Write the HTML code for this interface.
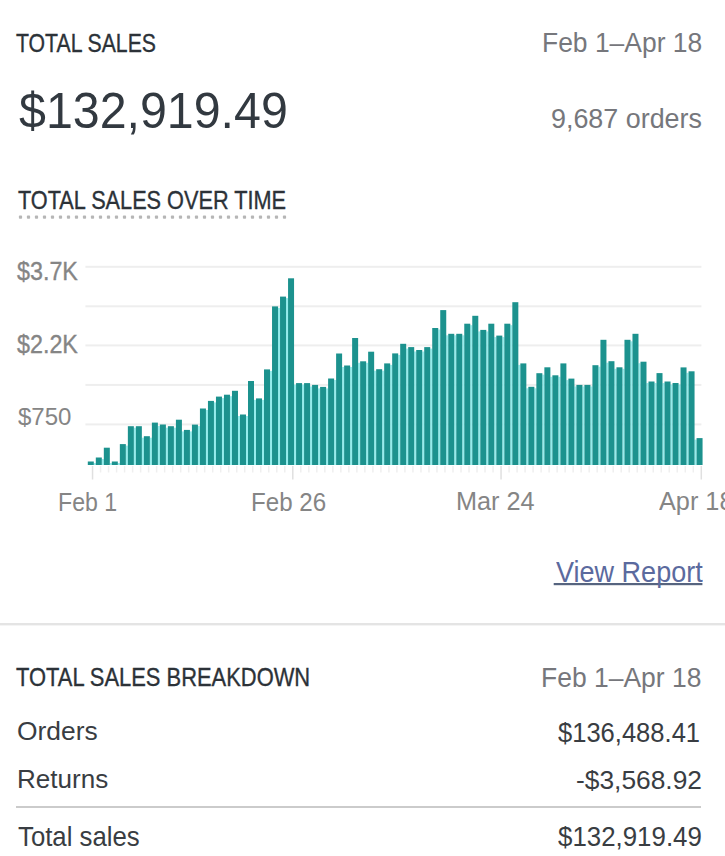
<!DOCTYPE html>
<html><head><meta charset="utf-8"><style>
html,body{margin:0;padding:0;background:#fff;width:725px;height:856px;overflow:hidden;position:relative}
.t{position:absolute;font-family:"Liberation Sans", sans-serif;line-height:1;white-space:nowrap}
</style></head><body>

<svg width="725" height="856" style="position:absolute;left:0;top:0">
<rect x="85.4" y="265.8" width="616" height="2" fill="#eeeeee"/>
<rect x="85.4" y="305.3" width="616" height="2" fill="#eeeeee"/>
<rect x="85.4" y="344.4" width="616" height="2" fill="#eeeeee"/>
<rect x="85.4" y="383.9" width="616" height="2" fill="#eeeeee"/>
<rect x="85.4" y="423.4" width="616" height="2" fill="#eeeeee"/>
<rect x="93.80" y="463.0" width="2.01" height="2.0" fill="#94ecec"/>
<rect x="101.81" y="459.0" width="2.01" height="6.0" fill="#94ecec"/>
<rect x="109.82" y="463.0" width="2.01" height="2.0" fill="#94ecec"/>
<rect x="117.83" y="463.0" width="2.01" height="2.0" fill="#94ecec"/>
<rect x="125.84" y="445.6" width="2.01" height="19.4" fill="#94ecec"/>
<rect x="133.85" y="427.7" width="2.01" height="37.3" fill="#94ecec"/>
<rect x="141.86" y="437.7" width="2.01" height="27.3" fill="#94ecec"/>
<rect x="149.87" y="437.7" width="2.01" height="27.3" fill="#94ecec"/>
<rect x="157.88" y="426.0" width="2.01" height="39.0" fill="#94ecec"/>
<rect x="165.89" y="427.7" width="2.01" height="37.3" fill="#94ecec"/>
<rect x="173.90" y="427.7" width="2.01" height="37.3" fill="#94ecec"/>
<rect x="181.91" y="431.4" width="2.01" height="33.6" fill="#94ecec"/>
<rect x="189.92" y="431.4" width="2.01" height="33.6" fill="#94ecec"/>
<rect x="197.93" y="426.1" width="2.01" height="38.9" fill="#94ecec"/>
<rect x="205.94" y="410.0" width="2.01" height="55.0" fill="#94ecec"/>
<rect x="213.95" y="402.4" width="2.01" height="62.6" fill="#94ecec"/>
<rect x="221.96" y="398.1" width="2.01" height="66.9" fill="#94ecec"/>
<rect x="229.97" y="396.2" width="2.01" height="68.8" fill="#94ecec"/>
<rect x="237.98" y="416.0" width="2.01" height="49.0" fill="#94ecec"/>
<rect x="245.99" y="416.0" width="2.01" height="49.0" fill="#94ecec"/>
<rect x="254.00" y="399.9" width="2.01" height="65.1" fill="#94ecec"/>
<rect x="262.01" y="399.9" width="2.01" height="65.1" fill="#94ecec"/>
<rect x="270.02" y="370.9" width="2.01" height="94.1" fill="#94ecec"/>
<rect x="278.03" y="307.9" width="2.01" height="157.1" fill="#94ecec"/>
<rect x="286.04" y="298.1" width="2.01" height="166.9" fill="#94ecec"/>
<rect x="294.05" y="384.6" width="2.01" height="80.4" fill="#94ecec"/>
<rect x="302.06" y="384.6" width="2.01" height="80.4" fill="#94ecec"/>
<rect x="310.07" y="386.4" width="2.01" height="78.6" fill="#94ecec"/>
<rect x="318.08" y="388.4" width="2.01" height="76.6" fill="#94ecec"/>
<rect x="326.09" y="388.4" width="2.01" height="76.6" fill="#94ecec"/>
<rect x="334.10" y="380.0" width="2.01" height="85.0" fill="#94ecec"/>
<rect x="342.11" y="367.0" width="2.01" height="98.0" fill="#94ecec"/>
<rect x="350.12" y="367.0" width="2.01" height="98.0" fill="#94ecec"/>
<rect x="358.13" y="362.8" width="2.01" height="102.2" fill="#94ecec"/>
<rect x="366.14" y="362.8" width="2.01" height="102.2" fill="#94ecec"/>
<rect x="374.15" y="370.7" width="2.01" height="94.3" fill="#94ecec"/>
<rect x="382.16" y="370.7" width="2.01" height="94.3" fill="#94ecec"/>
<rect x="390.17" y="364.9" width="2.01" height="100.1" fill="#94ecec"/>
<rect x="398.18" y="354.9" width="2.01" height="110.1" fill="#94ecec"/>
<rect x="406.19" y="348.6" width="2.01" height="116.4" fill="#94ecec"/>
<rect x="414.20" y="351.5" width="2.01" height="113.5" fill="#94ecec"/>
<rect x="422.21" y="351.5" width="2.01" height="113.5" fill="#94ecec"/>
<rect x="430.22" y="348.6" width="2.01" height="116.4" fill="#94ecec"/>
<rect x="438.23" y="329.5" width="2.01" height="135.5" fill="#94ecec"/>
<rect x="446.24" y="335.3" width="2.01" height="129.7" fill="#94ecec"/>
<rect x="454.25" y="335.3" width="2.01" height="129.7" fill="#94ecec"/>
<rect x="462.26" y="335.3" width="2.01" height="129.7" fill="#94ecec"/>
<rect x="470.27" y="325.2" width="2.01" height="139.8" fill="#94ecec"/>
<rect x="478.28" y="331.4" width="2.01" height="133.6" fill="#94ecec"/>
<rect x="486.29" y="331.4" width="2.01" height="133.6" fill="#94ecec"/>
<rect x="494.30" y="337.1" width="2.01" height="127.9" fill="#94ecec"/>
<rect x="502.31" y="337.1" width="2.01" height="127.9" fill="#94ecec"/>
<rect x="510.32" y="325.2" width="2.01" height="139.8" fill="#94ecec"/>
<rect x="518.33" y="364.9" width="2.01" height="100.1" fill="#94ecec"/>
<rect x="526.34" y="388.3" width="2.01" height="76.7" fill="#94ecec"/>
<rect x="534.35" y="388.3" width="2.01" height="76.7" fill="#94ecec"/>
<rect x="542.36" y="374.7" width="2.01" height="90.3" fill="#94ecec"/>
<rect x="550.37" y="376.8" width="2.01" height="88.2" fill="#94ecec"/>
<rect x="558.38" y="376.8" width="2.01" height="88.2" fill="#94ecec"/>
<rect x="566.39" y="380.1" width="2.01" height="84.9" fill="#94ecec"/>
<rect x="574.40" y="386.4" width="2.01" height="78.6" fill="#94ecec"/>
<rect x="582.41" y="386.4" width="2.01" height="78.6" fill="#94ecec"/>
<rect x="590.42" y="386.4" width="2.01" height="78.6" fill="#94ecec"/>
<rect x="598.43" y="366.7" width="2.01" height="98.3" fill="#94ecec"/>
<rect x="606.44" y="362.7" width="2.01" height="102.3" fill="#94ecec"/>
<rect x="614.45" y="368.8" width="2.01" height="96.2" fill="#94ecec"/>
<rect x="622.46" y="368.8" width="2.01" height="96.2" fill="#94ecec"/>
<rect x="630.47" y="341.3" width="2.01" height="123.7" fill="#94ecec"/>
<rect x="638.48" y="363.2" width="2.01" height="101.8" fill="#94ecec"/>
<rect x="646.49" y="383.0" width="2.01" height="82.0" fill="#94ecec"/>
<rect x="654.50" y="383.0" width="2.01" height="82.0" fill="#94ecec"/>
<rect x="662.51" y="383.0" width="2.01" height="82.0" fill="#94ecec"/>
<rect x="670.52" y="384.5" width="2.01" height="80.5" fill="#94ecec"/>
<rect x="678.53" y="384.5" width="2.01" height="80.5" fill="#94ecec"/>
<rect x="686.54" y="372.8" width="2.01" height="92.2" fill="#94ecec"/>
<rect x="694.55" y="439.6" width="2.01" height="25.4" fill="#94ecec"/>
<rect x="87.80" y="461.5" width="6.0" height="3.5" fill="#1c928e"/>
<rect x="95.81" y="457.5" width="6.0" height="7.5" fill="#1c928e"/>
<rect x="103.82" y="447.7" width="6.0" height="17.3" fill="#1c928e"/>
<rect x="111.83" y="461.5" width="6.0" height="3.5" fill="#1c928e"/>
<rect x="119.84" y="444.1" width="6.0" height="20.9" fill="#1c928e"/>
<rect x="127.85" y="426.2" width="6.0" height="38.8" fill="#1c928e"/>
<rect x="135.86" y="426.2" width="6.0" height="38.8" fill="#1c928e"/>
<rect x="143.87" y="436.2" width="6.0" height="28.8" fill="#1c928e"/>
<rect x="151.88" y="422.6" width="6.0" height="42.4" fill="#1c928e"/>
<rect x="159.89" y="424.5" width="6.0" height="40.5" fill="#1c928e"/>
<rect x="167.90" y="426.2" width="6.0" height="38.8" fill="#1c928e"/>
<rect x="175.91" y="419.7" width="6.0" height="45.3" fill="#1c928e"/>
<rect x="183.92" y="429.9" width="6.0" height="35.1" fill="#1c928e"/>
<rect x="191.93" y="424.6" width="6.0" height="40.4" fill="#1c928e"/>
<rect x="199.94" y="408.5" width="6.0" height="56.5" fill="#1c928e"/>
<rect x="207.95" y="400.9" width="6.0" height="64.1" fill="#1c928e"/>
<rect x="215.96" y="396.6" width="6.0" height="68.4" fill="#1c928e"/>
<rect x="223.97" y="394.7" width="6.0" height="70.3" fill="#1c928e"/>
<rect x="231.98" y="390.8" width="6.0" height="74.2" fill="#1c928e"/>
<rect x="239.99" y="414.5" width="6.0" height="50.5" fill="#1c928e"/>
<rect x="248.00" y="381.0" width="6.0" height="84.0" fill="#1c928e"/>
<rect x="256.01" y="398.4" width="6.0" height="66.6" fill="#1c928e"/>
<rect x="264.02" y="369.4" width="6.0" height="95.6" fill="#1c928e"/>
<rect x="272.03" y="306.4" width="6.0" height="158.6" fill="#1c928e"/>
<rect x="280.04" y="296.6" width="6.0" height="168.4" fill="#1c928e"/>
<rect x="288.05" y="278.3" width="6.0" height="186.7" fill="#1c928e"/>
<rect x="296.06" y="383.1" width="6.0" height="81.9" fill="#1c928e"/>
<rect x="304.07" y="383.1" width="6.0" height="81.9" fill="#1c928e"/>
<rect x="312.08" y="384.9" width="6.0" height="80.1" fill="#1c928e"/>
<rect x="320.09" y="386.9" width="6.0" height="78.1" fill="#1c928e"/>
<rect x="328.10" y="378.5" width="6.0" height="86.5" fill="#1c928e"/>
<rect x="336.11" y="353.5" width="6.0" height="111.5" fill="#1c928e"/>
<rect x="344.12" y="365.5" width="6.0" height="99.5" fill="#1c928e"/>
<rect x="352.13" y="338.0" width="6.0" height="127.0" fill="#1c928e"/>
<rect x="360.14" y="361.3" width="6.0" height="103.7" fill="#1c928e"/>
<rect x="368.15" y="351.7" width="6.0" height="113.3" fill="#1c928e"/>
<rect x="376.16" y="369.2" width="6.0" height="95.8" fill="#1c928e"/>
<rect x="384.17" y="363.4" width="6.0" height="101.6" fill="#1c928e"/>
<rect x="392.18" y="353.4" width="6.0" height="111.6" fill="#1c928e"/>
<rect x="400.19" y="343.8" width="6.0" height="121.2" fill="#1c928e"/>
<rect x="408.20" y="347.1" width="6.0" height="117.9" fill="#1c928e"/>
<rect x="416.21" y="350.0" width="6.0" height="115.0" fill="#1c928e"/>
<rect x="424.22" y="347.1" width="6.0" height="117.9" fill="#1c928e"/>
<rect x="432.23" y="328.0" width="6.0" height="137.0" fill="#1c928e"/>
<rect x="440.24" y="310.1" width="6.0" height="154.9" fill="#1c928e"/>
<rect x="448.25" y="333.8" width="6.0" height="131.2" fill="#1c928e"/>
<rect x="456.26" y="333.8" width="6.0" height="131.2" fill="#1c928e"/>
<rect x="464.27" y="323.7" width="6.0" height="141.3" fill="#1c928e"/>
<rect x="472.28" y="315.8" width="6.0" height="149.2" fill="#1c928e"/>
<rect x="480.29" y="329.9" width="6.0" height="135.1" fill="#1c928e"/>
<rect x="488.30" y="323.7" width="6.0" height="141.3" fill="#1c928e"/>
<rect x="496.31" y="335.6" width="6.0" height="129.4" fill="#1c928e"/>
<rect x="504.32" y="323.7" width="6.0" height="141.3" fill="#1c928e"/>
<rect x="512.33" y="302.2" width="6.0" height="162.8" fill="#1c928e"/>
<rect x="520.34" y="363.4" width="6.0" height="101.6" fill="#1c928e"/>
<rect x="528.35" y="386.8" width="6.0" height="78.2" fill="#1c928e"/>
<rect x="536.36" y="373.2" width="6.0" height="91.8" fill="#1c928e"/>
<rect x="544.37" y="367.3" width="6.0" height="97.7" fill="#1c928e"/>
<rect x="552.38" y="375.3" width="6.0" height="89.7" fill="#1c928e"/>
<rect x="560.39" y="363.4" width="6.0" height="101.6" fill="#1c928e"/>
<rect x="568.40" y="378.6" width="6.0" height="86.4" fill="#1c928e"/>
<rect x="576.41" y="384.9" width="6.0" height="80.1" fill="#1c928e"/>
<rect x="584.42" y="384.9" width="6.0" height="80.1" fill="#1c928e"/>
<rect x="592.43" y="365.2" width="6.0" height="99.8" fill="#1c928e"/>
<rect x="600.44" y="339.8" width="6.0" height="125.2" fill="#1c928e"/>
<rect x="608.45" y="361.2" width="6.0" height="103.8" fill="#1c928e"/>
<rect x="616.46" y="367.3" width="6.0" height="97.7" fill="#1c928e"/>
<rect x="624.47" y="339.8" width="6.0" height="125.2" fill="#1c928e"/>
<rect x="632.48" y="333.8" width="6.0" height="131.2" fill="#1c928e"/>
<rect x="640.49" y="361.7" width="6.0" height="103.3" fill="#1c928e"/>
<rect x="648.50" y="381.5" width="6.0" height="83.5" fill="#1c928e"/>
<rect x="656.51" y="373.1" width="6.0" height="91.9" fill="#1c928e"/>
<rect x="664.52" y="381.5" width="6.0" height="83.5" fill="#1c928e"/>
<rect x="672.53" y="383.0" width="6.0" height="82.0" fill="#1c928e"/>
<rect x="680.54" y="367.4" width="6.0" height="97.6" fill="#1c928e"/>
<rect x="688.55" y="371.3" width="6.0" height="93.7" fill="#1c928e"/>
<rect x="696.56" y="438.1" width="6.0" height="26.9" fill="#1c928e"/>
<rect x="91.80" y="466" width="1.5" height="13.5" fill="#e0e0e0"/>
<rect x="99.81" y="466" width="1.5" height="6.5" fill="#efefef"/>
<rect x="107.82" y="466" width="1.5" height="6.5" fill="#efefef"/>
<rect x="115.83" y="466" width="1.5" height="6.5" fill="#efefef"/>
<rect x="123.84" y="466" width="1.5" height="6.5" fill="#efefef"/>
<rect x="131.85" y="466" width="1.5" height="6.5" fill="#efefef"/>
<rect x="139.86" y="466" width="1.5" height="6.5" fill="#efefef"/>
<rect x="147.87" y="466" width="1.5" height="6.5" fill="#efefef"/>
<rect x="155.88" y="466" width="1.5" height="6.5" fill="#efefef"/>
<rect x="163.89" y="466" width="1.5" height="6.5" fill="#efefef"/>
<rect x="171.90" y="466" width="1.5" height="6.5" fill="#efefef"/>
<rect x="179.91" y="466" width="1.5" height="6.5" fill="#efefef"/>
<rect x="187.92" y="466" width="1.5" height="6.5" fill="#efefef"/>
<rect x="195.93" y="466" width="1.5" height="6.5" fill="#efefef"/>
<rect x="203.94" y="466" width="1.5" height="6.5" fill="#efefef"/>
<rect x="211.95" y="466" width="1.5" height="6.5" fill="#efefef"/>
<rect x="219.96" y="466" width="1.5" height="6.5" fill="#efefef"/>
<rect x="227.97" y="466" width="1.5" height="6.5" fill="#efefef"/>
<rect x="235.98" y="466" width="1.5" height="6.5" fill="#efefef"/>
<rect x="243.99" y="466" width="1.5" height="6.5" fill="#efefef"/>
<rect x="252.00" y="466" width="1.5" height="6.5" fill="#efefef"/>
<rect x="260.01" y="466" width="1.5" height="6.5" fill="#efefef"/>
<rect x="268.02" y="466" width="1.5" height="6.5" fill="#efefef"/>
<rect x="276.03" y="466" width="1.5" height="6.5" fill="#efefef"/>
<rect x="284.04" y="466" width="1.5" height="6.5" fill="#efefef"/>
<rect x="292.05" y="466" width="1.5" height="13.5" fill="#e0e0e0"/>
<rect x="300.06" y="466" width="1.5" height="6.5" fill="#efefef"/>
<rect x="308.07" y="466" width="1.5" height="6.5" fill="#efefef"/>
<rect x="316.08" y="466" width="1.5" height="6.5" fill="#efefef"/>
<rect x="324.09" y="466" width="1.5" height="6.5" fill="#efefef"/>
<rect x="332.10" y="466" width="1.5" height="6.5" fill="#efefef"/>
<rect x="340.11" y="466" width="1.5" height="6.5" fill="#efefef"/>
<rect x="348.12" y="466" width="1.5" height="6.5" fill="#efefef"/>
<rect x="356.13" y="466" width="1.5" height="6.5" fill="#efefef"/>
<rect x="364.14" y="466" width="1.5" height="6.5" fill="#efefef"/>
<rect x="372.15" y="466" width="1.5" height="6.5" fill="#efefef"/>
<rect x="380.16" y="466" width="1.5" height="6.5" fill="#efefef"/>
<rect x="388.17" y="466" width="1.5" height="6.5" fill="#efefef"/>
<rect x="396.18" y="466" width="1.5" height="6.5" fill="#efefef"/>
<rect x="404.19" y="466" width="1.5" height="6.5" fill="#efefef"/>
<rect x="412.20" y="466" width="1.5" height="6.5" fill="#efefef"/>
<rect x="420.21" y="466" width="1.5" height="6.5" fill="#efefef"/>
<rect x="428.22" y="466" width="1.5" height="6.5" fill="#efefef"/>
<rect x="436.23" y="466" width="1.5" height="6.5" fill="#efefef"/>
<rect x="444.24" y="466" width="1.5" height="6.5" fill="#efefef"/>
<rect x="452.25" y="466" width="1.5" height="6.5" fill="#efefef"/>
<rect x="460.26" y="466" width="1.5" height="6.5" fill="#efefef"/>
<rect x="468.27" y="466" width="1.5" height="6.5" fill="#efefef"/>
<rect x="476.28" y="466" width="1.5" height="6.5" fill="#efefef"/>
<rect x="484.29" y="466" width="1.5" height="6.5" fill="#efefef"/>
<rect x="492.30" y="466" width="1.5" height="6.5" fill="#efefef"/>
<rect x="500.31" y="466" width="1.5" height="13.5" fill="#e0e0e0"/>
<rect x="508.32" y="466" width="1.5" height="6.5" fill="#efefef"/>
<rect x="516.33" y="466" width="1.5" height="6.5" fill="#efefef"/>
<rect x="524.34" y="466" width="1.5" height="6.5" fill="#efefef"/>
<rect x="532.35" y="466" width="1.5" height="6.5" fill="#efefef"/>
<rect x="540.36" y="466" width="1.5" height="6.5" fill="#efefef"/>
<rect x="548.37" y="466" width="1.5" height="6.5" fill="#efefef"/>
<rect x="556.38" y="466" width="1.5" height="6.5" fill="#efefef"/>
<rect x="564.39" y="466" width="1.5" height="6.5" fill="#efefef"/>
<rect x="572.40" y="466" width="1.5" height="6.5" fill="#efefef"/>
<rect x="580.41" y="466" width="1.5" height="6.5" fill="#efefef"/>
<rect x="588.42" y="466" width="1.5" height="6.5" fill="#efefef"/>
<rect x="596.43" y="466" width="1.5" height="6.5" fill="#efefef"/>
<rect x="604.44" y="466" width="1.5" height="6.5" fill="#efefef"/>
<rect x="612.45" y="466" width="1.5" height="6.5" fill="#efefef"/>
<rect x="620.46" y="466" width="1.5" height="6.5" fill="#efefef"/>
<rect x="628.47" y="466" width="1.5" height="6.5" fill="#efefef"/>
<rect x="636.48" y="466" width="1.5" height="6.5" fill="#efefef"/>
<rect x="644.49" y="466" width="1.5" height="6.5" fill="#efefef"/>
<rect x="652.50" y="466" width="1.5" height="6.5" fill="#efefef"/>
<rect x="660.51" y="466" width="1.5" height="6.5" fill="#efefef"/>
<rect x="668.52" y="466" width="1.5" height="6.5" fill="#efefef"/>
<rect x="676.53" y="466" width="1.5" height="6.5" fill="#efefef"/>
<rect x="684.54" y="466" width="1.5" height="6.5" fill="#efefef"/>
<rect x="692.55" y="466" width="1.5" height="6.5" fill="#efefef"/>
<rect x="700.56" y="466" width="1.5" height="13.5" fill="#e0e0e0"/>
<rect x="18.9" y="215.6" width="3.2" height="3.2" rx="0.8" fill="#b6b6b6"/>
<rect x="26.9" y="215.6" width="3.2" height="3.2" rx="0.8" fill="#b6b6b6"/>
<rect x="34.9" y="215.6" width="3.2" height="3.2" rx="0.8" fill="#b6b6b6"/>
<rect x="42.9" y="215.6" width="3.2" height="3.2" rx="0.8" fill="#b6b6b6"/>
<rect x="50.9" y="215.6" width="3.2" height="3.2" rx="0.8" fill="#b6b6b6"/>
<rect x="58.9" y="215.6" width="3.2" height="3.2" rx="0.8" fill="#b6b6b6"/>
<rect x="66.9" y="215.6" width="3.2" height="3.2" rx="0.8" fill="#b6b6b6"/>
<rect x="74.9" y="215.6" width="3.2" height="3.2" rx="0.8" fill="#b6b6b6"/>
<rect x="82.9" y="215.6" width="3.2" height="3.2" rx="0.8" fill="#b6b6b6"/>
<rect x="90.9" y="215.6" width="3.2" height="3.2" rx="0.8" fill="#b6b6b6"/>
<rect x="98.9" y="215.6" width="3.2" height="3.2" rx="0.8" fill="#b6b6b6"/>
<rect x="106.9" y="215.6" width="3.2" height="3.2" rx="0.8" fill="#b6b6b6"/>
<rect x="114.9" y="215.6" width="3.2" height="3.2" rx="0.8" fill="#b6b6b6"/>
<rect x="122.9" y="215.6" width="3.2" height="3.2" rx="0.8" fill="#b6b6b6"/>
<rect x="130.9" y="215.6" width="3.2" height="3.2" rx="0.8" fill="#b6b6b6"/>
<rect x="138.9" y="215.6" width="3.2" height="3.2" rx="0.8" fill="#b6b6b6"/>
<rect x="146.9" y="215.6" width="3.2" height="3.2" rx="0.8" fill="#b6b6b6"/>
<rect x="154.9" y="215.6" width="3.2" height="3.2" rx="0.8" fill="#b6b6b6"/>
<rect x="162.9" y="215.6" width="3.2" height="3.2" rx="0.8" fill="#b6b6b6"/>
<rect x="170.9" y="215.6" width="3.2" height="3.2" rx="0.8" fill="#b6b6b6"/>
<rect x="178.9" y="215.6" width="3.2" height="3.2" rx="0.8" fill="#b6b6b6"/>
<rect x="186.9" y="215.6" width="3.2" height="3.2" rx="0.8" fill="#b6b6b6"/>
<rect x="194.9" y="215.6" width="3.2" height="3.2" rx="0.8" fill="#b6b6b6"/>
<rect x="202.9" y="215.6" width="3.2" height="3.2" rx="0.8" fill="#b6b6b6"/>
<rect x="210.9" y="215.6" width="3.2" height="3.2" rx="0.8" fill="#b6b6b6"/>
<rect x="218.9" y="215.6" width="3.2" height="3.2" rx="0.8" fill="#b6b6b6"/>
<rect x="226.9" y="215.6" width="3.2" height="3.2" rx="0.8" fill="#b6b6b6"/>
<rect x="234.9" y="215.6" width="3.2" height="3.2" rx="0.8" fill="#b6b6b6"/>
<rect x="242.9" y="215.6" width="3.2" height="3.2" rx="0.8" fill="#b6b6b6"/>
<rect x="250.9" y="215.6" width="3.2" height="3.2" rx="0.8" fill="#b6b6b6"/>
<rect x="258.9" y="215.6" width="3.2" height="3.2" rx="0.8" fill="#b6b6b6"/>
<rect x="266.9" y="215.6" width="3.2" height="3.2" rx="0.8" fill="#b6b6b6"/>
<rect x="274.9" y="215.6" width="3.2" height="3.2" rx="0.8" fill="#b6b6b6"/>
<rect x="282.9" y="215.6" width="3.2" height="3.2" rx="0.8" fill="#b6b6b6"/>
<rect x="0" y="623.0" width="725" height="2.4" fill="#e4e4e4"/>
<rect x="16" y="806" width="685" height="2" fill="#cbcbcb"/>
<rect x="553.7" y="583" width="148.7" height="2.2" fill="#56647f"/>
</svg>
<div class="t" style="left:15.80px;top:29.77px;font-size:26.45px;color:#2c3238;-webkit-text-stroke:0.35px #2c3238;transform-origin:0 0;transform:scaleX(0.8029)">TOTAL SALES</div>
<div class="t" style="left:541.80px;top:28.53px;font-size:27.91px;color:#76777c;transform-origin:0 0;transform:scaleX(0.9476)">Feb 1–Apr 18</div>
<div class="t" style="left:18.92px;top:86.49px;font-size:49.42px;color:#323940;transform-origin:0 0;transform:scaleX(0.9782)">$132,919.49</div>
<div class="t" style="left:551.05px;top:104.49px;font-size:28.20px;color:#76777c;transform-origin:0 0;transform:scaleX(0.9538)">9,687 orders</div>
<div class="t" style="left:17.84px;top:188.25px;font-size:25.29px;color:#2c3238;-webkit-text-stroke:0.35px #2c3238;transform-origin:0 0;transform:scaleX(0.8581)">TOTAL SALES OVER TIME</div>
<div class="t" style="left:17.08px;top:258.65px;font-size:25.29px;color:#858585;-webkit-text-stroke:0.35px #858585;transform-origin:0 0;transform:scaleX(0.9215)">$3.7K</div>
<div class="t" style="left:17.08px;top:331.85px;font-size:25.29px;color:#858585;-webkit-text-stroke:0.35px #858585;transform-origin:0 0;transform:scaleX(0.9215)">$2.2K</div>
<div class="t" style="left:17.90px;top:405.35px;font-size:24.71px;color:#858585;transform-origin:0 0;transform:scaleX(0.9722)">$750</div>
<div class="t" style="left:57.64px;top:488.79px;font-size:26.31px;color:#858585;transform-origin:0 0;transform:scaleX(0.8797)">Feb 1</div>
<div class="t" style="left:250.54px;top:488.94px;font-size:26.02px;color:#858585;transform-origin:0 0;transform:scaleX(0.9282)">Feb 26</div>
<div class="t" style="left:456.31px;top:489.43px;font-size:25.44px;color:#858585;transform-origin:0 0;transform:scaleX(0.9935)">Mar 24</div>
<div class="t" style="left:555.80px;top:557.67px;font-size:28.92px;color:#5b6a9e;transform-origin:0 0;transform:scaleX(0.9350)">View Report</div>
<div class="t" style="left:15.75px;top:664.68px;font-size:25.73px;color:#2c3238;-webkit-text-stroke:0.35px #2c3238;transform-origin:0 0;transform:scaleX(0.8518)">TOTAL SALES BREAKDOWN</div>
<div class="t" style="left:540.96px;top:663.83px;font-size:27.33px;color:#76777c;transform-origin:0 0;transform:scaleX(0.9687)">Feb 1–Apr 18</div>
<div class="t" style="left:17.28px;top:719.06px;font-size:25.87px;color:#393d42;transform-origin:0 0;transform:scaleX(1.0208)">Orders</div>
<div class="t" style="left:558.40px;top:718.65px;font-size:27.18px;color:#393d42;transform-origin:0 0;transform:scaleX(0.9400)">$136,488.41</div>
<div class="t" style="left:16.56px;top:767.41px;font-size:25.58px;color:#393d42;transform-origin:0 0;transform:scaleX(1.0184)">Returns</div>
<div class="t" style="left:575.88px;top:767.58px;font-size:25.73px;color:#393d42;transform-origin:0 0;transform:scaleX(1.0240)">-$3,568.92</div>
<div class="t" style="left:17.80px;top:822.14px;font-size:28.49px;color:#393d42;transform-origin:0 0;transform:scaleX(0.9045)">Total sales</div>
<div class="t" style="left:558.40px;top:822.78px;font-size:27.62px;color:#393d42;transform-origin:0 0;transform:scaleX(0.9368)">$132,919.49</div>
<div class="t" style="left:659.40px;top:488.73px;font-size:25.44px;color:#858585;transform-origin:0 0;transform:scaleX(0.9935)">Apr 18</div>
</body></html>
